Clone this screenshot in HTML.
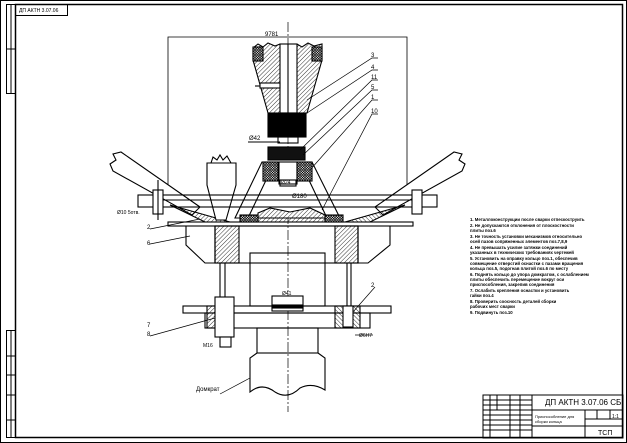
<!DOCTYPE html>
<html><head><meta charset="utf-8"><style>
html,body{margin:0;padding:0;background:#fff;}
svg{display:block;}
text{font-family:"Liberation Sans","DejaVu Sans",sans-serif;fill:#000;}
</style></head><body>
<svg width="627" height="443" viewBox="0 0 627 443" xmlns="http://www.w3.org/2000/svg">
<defs>
<pattern id="h" width="3" height="3" patternUnits="userSpaceOnUse" patternTransform="rotate(45)"><line x1="0" y1="0" x2="0" y2="3" stroke="#000" stroke-width="0.8"/></pattern>
<pattern id="hr" width="3" height="3" patternUnits="userSpaceOnUse" patternTransform="rotate(-45)"><line x1="0" y1="0" x2="0" y2="3" stroke="#000" stroke-width="0.8"/></pattern>
<pattern id="x" width="2.5" height="2.5" patternUnits="userSpaceOnUse"><rect width="2.5" height="2.5" fill="#fff"/><path d="M0 0L2.5 2.5M2.5 0L0 2.5" stroke="#000" stroke-width="0.7"/></pattern>
</defs>
<g fill="none" stroke="#000" stroke-width="1">
<rect x="0.5" y="0.5" width="626" height="442"/>
<rect x="15.5" y="4.5" width="607" height="433" stroke-width="1.5"/>
<rect x="6.5" y="4.5" width="9" height="89"/><line x1="6" y1="49" x2="15" y2="49"/><line x1="11" y1="4" x2="11" y2="93"/>
<rect x="6.5" y="330.5" width="9" height="107"/><line x1="11" y1="330" x2="11" y2="437"/>
<line x1="6" y1="356" x2="15" y2="356"/><line x1="6" y1="375" x2="15" y2="375"/><line x1="6" y1="395" x2="15" y2="395"/><line x1="6" y1="420" x2="15" y2="420"/>
<rect x="15.5" y="4.5" width="52" height="11"/>
<g stroke-width="1.1">
<path d="M168 196V37H407V196" stroke-width="0.8"/>
<line x1="288" y1="22" x2="288" y2="412" stroke-width="0.7" stroke-dasharray="10,2,2,2"/>
<path d="M253 48L258 44L263 47L268 43L275 46L280 44L297 44L302 47L308 43L314 46L322 44L322 60L307 113H268L253 60Z" fill="url(#h)"/>
<rect x="280" y="44" width="17" height="69" fill="#fff"/>
<line x1="288" y1="44" x2="288" y2="113"/>
<rect x="253" y="47" width="10" height="14" fill="url(#x)"/><rect x="312" y="47" width="10" height="14" fill="url(#x)"/>
<rect x="260" y="83" width="20" height="5" fill="#fff"/><line x1="255" y1="86" x2="260" y2="86"/>
<rect x="268" y="113" width="38" height="24" fill="#000"/>
<rect x="278" y="137" width="20" height="6"/>
<line x1="248" y1="142" x2="280" y2="142"/>
<rect x="268" y="147" width="37" height="13" fill="#111"/>
<path d="M262 162H312L340 218H235Z" fill="#fff"/>
<path d="M268 176L248 218M307 176L327 218"/>
<rect x="263" y="162" width="15" height="19" fill="url(#x)"/><rect x="297" y="162" width="15" height="19" fill="url(#x)"/>
<rect x="279" y="162" width="18" height="22"/>
<rect x="280" y="180" width="16" height="6"/>
<path d="M113 171L110 164L116 160L113 154L121 152L200 207L192 215Z" fill="#fff"/>
<path d="M462 171L465 164L459 160L462 154L454 152L375 207L383 215Z" fill="#fff"/>
<path d="M170 205L230 222L205 222Z" fill="url(#h)"/><path d="M405 205L345 222L370 222Z" fill="url(#hr)"/>
<path d="M207 163H236V185L226 220H216L207 185Z" fill="#fff"/>
<path d="M211 163L213 157L217 160L220 155L223 160L227 156L231 163"/>
<rect x="138" y="195" width="299" height="12" fill="none"/>
<line x1="160" y1="200" x2="415" y2="200"/>
<rect x="153" y="190" width="10" height="24" fill="#fff"/><rect x="412" y="190" width="10" height="24" fill="#fff"/>
<line x1="158" y1="180" x2="158" y2="220"/>
<path d="M258 213L270 208L290 212L310 208L325 215L325 222H258Z" fill="url(#h)"/>
<rect x="240" y="215" width="18" height="7" fill="url(#x)"/><rect x="325" y="215" width="18" height="7" fill="url(#x)"/>
<rect x="168" y="222" width="245" height="4"/>
<path d="M186 226H215V263H205L186 245Z"/>
<path d="M390 226H358V263H368L390 245Z"/>
<rect x="215" y="226" width="143" height="37"/>
<rect x="215" y="226" width="24" height="37" fill="url(#h)"/><rect x="335" y="226" width="23" height="37" fill="url(#h)"/>
<line x1="220" y1="263" x2="220" y2="306"/><line x1="225" y1="263" x2="225" y2="306"/>
<line x1="347" y1="263" x2="347" y2="306"/><line x1="351" y1="263" x2="351" y2="306"/>
<rect x="250" y="253" width="75" height="53"/>
<rect x="183" y="306" width="208" height="7"/>
<rect x="205" y="313" width="165" height="15"/>
<rect x="207" y="306" width="25" height="22" fill="url(#h)"/><rect x="335" y="306" width="25" height="22" fill="url(#hr)"/>
<rect x="215" y="297" width="19" height="40" fill="#fff"/><rect x="220" y="337" width="11" height="10" fill="#fff"/>
<rect x="343" y="306" width="10" height="21" fill="#fff"/>
<rect x="272" y="296" width="31" height="15" fill="#fff"/><rect x="272" y="305" width="31" height="3" fill="#000"/>
<rect x="257" y="328" width="61" height="25"/>
<path d="M257 353L250 358V392Q262 382 275 392Q288 400 300 388Q312 382 325 390V358L318 353"/>
</g>
<path d="M307 100L372 58H378M307 113L372 70H378M300 150L372 80H378M303 155L372 90H378M310 170L372 100H378M322 210L372 114H378" stroke-width="0.7"/>
<path d="M150 229L200 219M150 244L190 236M150 336L215 318M375 287L353 312" stroke-width="0.7"/>
<path d="M220 394L250 378" stroke-width="0.7"/>
<line x1="355" y1="335" x2="373" y2="335" stroke-width="0.7"/>
<rect x="483" y="395" width="140" height="43"/>
<line x1="483" y1="410" x2="623" y2="410"/>
<line x1="532" y1="395" x2="532" y2="438"/><line x1="585" y1="410" x2="585" y2="438"/>
<line x1="585" y1="419" x2="623" y2="419"/><line x1="585" y1="426" x2="623" y2="426"/>
<line x1="490" y1="395" x2="490" y2="438"/><line x1="497" y1="395" x2="497" y2="410"/><line x1="510" y1="395" x2="510" y2="438"/><line x1="520" y1="395" x2="520" y2="438"/>
<line x1="483" y1="400" x2="532" y2="400"/><line x1="483" y1="405" x2="532" y2="405"/><line x1="483" y1="415" x2="532" y2="415"/><line x1="483" y1="420" x2="532" y2="420"/><line x1="483" y1="425" x2="532" y2="425"/><line x1="483" y1="430" x2="532" y2="430"/>
<line x1="532" y1="426" x2="585" y2="426"/>
<line x1="597" y1="410" x2="597" y2="419"/><line x1="610" y1="410" x2="610" y2="419"/>
</g>
<g font-size="6">
<text x="19" y="12" font-size="5">ДП АКТН 3.07.06</text>
<text x="265" y="36">9781</text>
<text x="371" y="57">3</text><text x="371" y="69">4</text><text x="371" y="79">11</text><text x="371" y="89">5</text><text x="371" y="99">1</text><text x="371" y="113">10</text>
<text x="249" y="140">Ø42</text><text x="281" y="184" font-size="5">Ø24</text><text x="292" y="198">Ø180</text>
<text x="117" y="214" font-size="5">Ø10 5отв.</text>
<text x="147" y="229">2</text><text x="147" y="245">6</text>
<text x="282" y="295" font-size="5">Ø41</text>
<text x="371" y="287">2</text>
<text x="147" y="327">7</text><text x="147" y="336">8</text>
<text x="203" y="347" font-size="5">M16</text><text x="359" y="337" font-size="5">Ø6H7</text>
<text x="196" y="391">Домкрат</text>
<g font-size="4.3" font-weight="bold">
<text x="470" y="221">1. Металлоконструкции после сварки отпескоструить</text>
<text x="470" y="227">2. Не допускаются отклонения от плоскостности</text>
<text x="470" y="232">плиты поз.6</text>
<text x="470" y="238">3. Не точность установки механизмов относительно</text>
<text x="470" y="243">осей пазов сопряженных элементов поз.7,8,9</text>
<text x="470" y="249">4. Не превышать усилие затяжки соединений</text>
<text x="470" y="254">указанных в технических требованиях чертежей</text>
<text x="470" y="260">5. Установить на оправку кольцо поз.1, обеспечив</text>
<text x="470" y="265">совмещение отверстий оснастки с пазами вращения</text>
<text x="470" y="270">кольца поз.5, подогнав плитой поз.6 по месту</text>
<text x="470" y="276">6. Поднять кольцо до упора домкратом, с ослаблением</text>
<text x="470" y="281">плиты обеспечить перемещение вокруг оси</text>
<text x="470" y="286">приспособления, закрепив соединения</text>
<text x="470" y="292">7. Ослабить крепления оснастки и установить</text>
<text x="470" y="297">гайки поз.4</text>
<text x="470" y="303">8. Проверить соосность деталей сборки</text>
<text x="470" y="308">рабочих мест сварки</text>
<text x="470" y="314">9. Подвинуть поз.10</text>
</g>
<text x="545" y="405" font-size="8">ДП АКТН 3.07.06 СБ</text>
<text x="535" y="418" font-size="4">Приспособление для</text>
<text x="535" y="423" font-size="4">сборки кольца</text>
<text x="612" y="418" font-size="5">1:1</text>
<text x="598" y="435" font-size="7">ТСП</text>
</g>
</svg>
</body></html>
